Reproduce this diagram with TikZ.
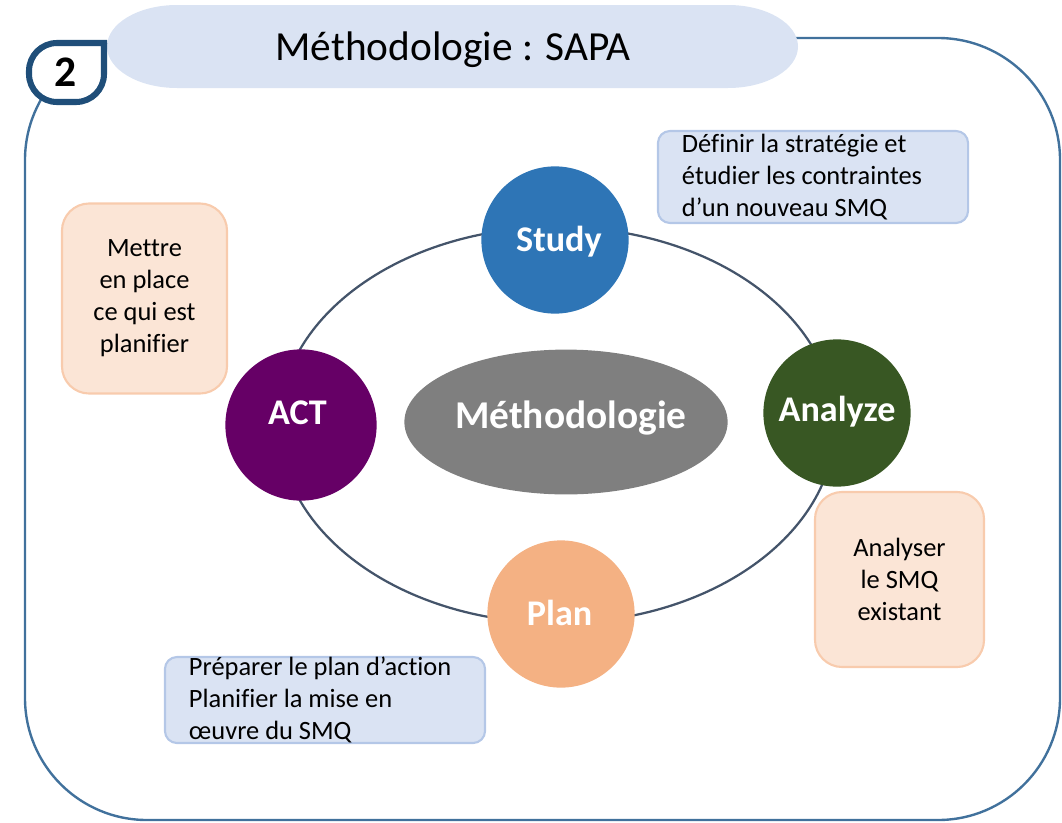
\documentclass[tikz,border=0pt]{standalone}
\usepackage{fontspec}
\setmainfont{Carlito}[Ligatures=NoCommon]
\usetikzlibrary{positioning,shapes.geometric}
\definecolor{frameblue}{HTML}{41719C}
\definecolor{badgeblue}{HTML}{1F4E79}
\definecolor{paleblue}{HTML}{DAE3F3}
\definecolor{palebluedraw}{HTML}{B4C7E7}
\definecolor{palepeach}{HTML}{FBE5D6}
\definecolor{palepeachdraw}{HTML}{F8CBAD}
\definecolor{studyblue}{HTML}{2E75B6}
\definecolor{analyzegreen}{HTML}{385723}
\definecolor{planorange}{HTML}{F4B183}
\definecolor{actpurple}{HTML}{660066}
\definecolor{coregray}{HTML}{7F7F7F}
\definecolor{orbitslate}{HTML}{44546A}

\begin{document}
\begin{tikzpicture}[x=0.025cm, y=-0.025cm,
		stage/.style={circle, minimum size=3.68cm, inner sep=0mm},
		stagetext/.style={text=white, font=\fontsize{25.7}{30}\selectfont\bfseries, text height=16.5pt, text depth=0pt, inner sep=0mm},
		notetext/.style={font=\fontsize{18.8}{22.7}\selectfont},
		bluebox/.style={notetext, draw=palebluedraw, line width=1.5pt, fill=paleblue, rounded corners=0.3cm, align=flush left, inner ysep=0mm},
		peachbox/.style={notetext, draw=palepeachdraw, line width=1.5pt, fill=palepeach, rounded corners=0.68cm, align=center, inner sep=0mm}]
		
		\useasboundingbox (0,0) rectangle (1062,822);
		
		\draw[frameblue, line width=1.7pt, rounded corners=3.05cm] (25,38) rectangle (1060,820);
		
		\fill[paleblue] (177,5) -- (728,5) arc[start angle=270, end angle=450, x radius=70, y radius=41.5]
		-- (177,88) arc[start angle=90, end angle=270, x radius=70, y radius=41.5] -- cycle;
		\node[font=\fontsize{29.4}{34}\selectfont, text height=19pt, text depth=0pt, inner sep=0mm] (titletext) at (453,47.5) {Méthodologie : SAPA};
		
		\draw[badgeblue, line width=4.3pt, fill=white] (104,43) -- (104,74) arc[start angle=0, end angle=90, radius=28]
		-- (57,102) arc[start angle=90, end angle=180, radius=28]
		-- (29,71) arc[start angle=180, end angle=270, radius=28] -- cycle;
		\node[font=\fontsize{31}{36}\selectfont\bfseries, text height=19.5pt, text depth=0pt, inner sep=0mm] (badgenum) at (66,73) {2};
		
		\draw[orbitslate, line width=1.6pt] (557,425) ellipse [x radius=278, y radius=198];
		
		\node[ellipse, fill=coregray, minimum width=8.08cm, minimum height=3.62cm, inner sep=0mm,
		label={[text=white, font=\fontsize{28}{33}\selectfont\bfseries, text height=18pt, text depth=0pt, inner sep=0mm, xshift=3.5pt, yshift=4.2pt]center:Méthodologie}] (core) at (566,422) {};
		
		\node[stage, fill=studyblue, label={[stagetext, xshift=2.8pt]center:Study}] (study) at (555,240) {};
		\node[stage, fill=analyzegreen, label={[stagetext, yshift=2.5pt]center:Analyze}] (analyze) at (837,413) {};
		\node[stage, fill=planorange, label={[stagetext, xshift=-1pt]center:Plan}] (plan) at (561,614) {};
		\node[stage, fill=actpurple, minimum size=3.78cm, label={[stagetext, xshift=-2.5pt, yshift=8.9pt]center:ACT}] (act) at (301,425) {};
		
		\node[bluebox, minimum height=2.3cm, text width=6.55cm, inner xsep=0.6cm] (studynote) at (813,177)
		{Définir la stratégie et\\étudier les contraintes\\d’un nouveau SMQ};
		\node[bluebox, minimum height=2.15cm, text width=6.8cm, inner xsep=0.6cm] (plannote) at (325,700)
		{Préparer le plan d’action\\Planifier la mise en\\œuvre du SMQ};
		\node[peachbox, minimum width=4.125cm, minimum height=4.75cm] (actnote) at (144.5,298.5)
		{Mettre\\en place\\ce qui est\\planifier};
		\node[peachbox, minimum width=4.225cm, minimum height=4.375cm] (analyzenote) at (899.5,579.5)
		{Analyser\\le SMQ\\existant};
\end{tikzpicture}
\end{document}
